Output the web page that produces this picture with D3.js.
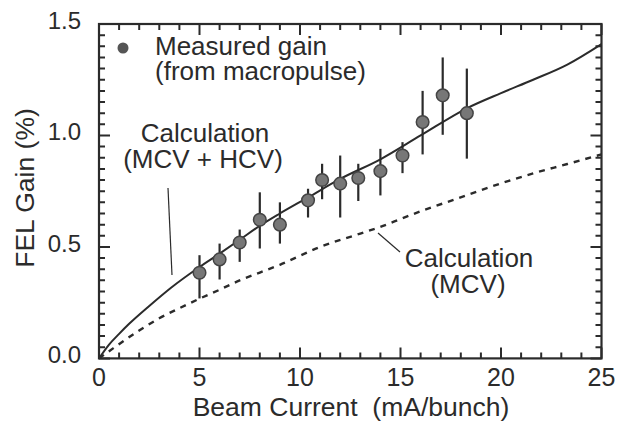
<!DOCTYPE html>
<html>
<head>
<meta charset="utf-8">
<script src="https://cdn.jsdelivr.net/npm/d3@7"></script>
<style>
  html, body { margin: 0; padding: 0; background: #fff; }
  svg { display: block; font-family: "Liberation Sans", Arial, Helvetica, sans-serif; }
</style>
</head>
<body>
<svg id="chart" width="618" height="424"></svg>
<script>
// Measured FEL gain vs beam current (from macropulse)
const measCurrent = [5.0, 6.0, 7.0, 8.0, 9.0, 10.4, 11.1, 12.0, 12.9, 14.0, 15.1, 16.1, 17.1, 18.3];
const measGain    = [0.384, 0.444, 0.520, 0.622, 0.600, 0.709, 0.800, 0.784, 0.809, 0.840, 0.910, 1.060, 1.180, 1.100];
const measHigh    = [0.463, 0.515, 0.578, 0.745, 0.700, 0.761, 0.873, 0.910, 0.873, 0.940, 0.970, 1.200, 1.350, 1.300];
const measLow     = [0.269, 0.354, 0.433, 0.493, 0.515, 0.632, 0.714, 0.632, 0.706, 0.731, 0.831, 0.915, 1.003, 0.896];

// Calculation (MCV + HCV)
const calcBothCurrent = [0, 0.5, 1.0, 1.5, 2.5, 3.6, 5.0, 6.0, 7.0, 8.0, 9.0, 10.4, 12.0, 14.0, 16.0, 18.3, 20.0, 21.6, 23.3, 25.0];
const calcBothGain    = [0.0, 0.062, 0.110, 0.155, 0.235, 0.318, 0.410, 0.470, 0.532, 0.595, 0.650, 0.722, 0.805, 0.893, 1.000, 1.122, 1.190, 1.250, 1.318, 1.410];

// Calculation (MCV)
const calcMcvCurrent = [0, 0.7, 2.0, 3.0, 4.0, 5.0, 6.0, 7.0, 8.0, 9.0, 11.0, 13.0, 14.0, 15.0, 16.0, 17.6, 20.0, 21.6, 23.3, 25.0];
const calcMcvGain    = [0.0, 0.045, 0.125, 0.180, 0.225, 0.268, 0.308, 0.350, 0.385, 0.420, 0.500, 0.560, 0.590, 0.625, 0.660, 0.710, 0.785, 0.830, 0.872, 0.915];

const xTicks = [0, 5, 10, 15, 20, 25];
const yTicks = [0.0, 0.5, 1.0, 1.5];
const xMinorStep = 1;
const yMinorStep = 0.05;

const svg = d3.select("#chart");
const plotLeft = 99, plotRight = 601.5, plotTop = 24, plotBottom = 358.4;

const x = d3.scaleLinear().domain([0, 25]).range([plotLeft, plotRight]);
const y = d3.scaleLinear().domain([0, 1.5]).range([plotBottom, plotTop]);

const ink = "#2b2b2b";

// Frame
svg.append("rect")
  .attr("x", plotLeft).attr("y", plotTop)
  .attr("width", plotRight - plotLeft).attr("height", plotBottom - plotTop)
  .attr("fill", "none").attr("stroke", ink).attr("stroke-width", 2.2);

// Inward ticks on all four sides, built as one path
const xMinor = d3.range(0, 25 + 1e-9, xMinorStep);
const yMinor = d3.range(0, 1.5 + 1e-9, yMinorStep);
const isMajorX = v => xTicks.some(t => Math.abs(t - v) < 1e-6);
const isMajorY = v => yTicks.some(t => Math.abs(t - v) < 1e-6);
const tp = d3.path();
xMinor.forEach(v => {
  const len = isMajorX(v) ? 11 : 6;
  const px = x(v);
  tp.moveTo(px, plotBottom); tp.lineTo(px, plotBottom - len);
  tp.moveTo(px, plotTop); tp.lineTo(px, plotTop + len);
});
yMinor.forEach(v => {
  const len = isMajorY(v) ? 11 : 6;
  const py = y(v);
  tp.moveTo(plotLeft, py); tp.lineTo(plotLeft + len, py);
  tp.moveTo(plotRight, py); tp.lineTo(plotRight - len, py);
});
svg.append("path").attr("d", tp.toString())
  .attr("fill", "none").attr("stroke", ink).attr("stroke-width", 2);

// Tick labels
svg.append("g").selectAll("text").data(xTicks).join("text")
  .attr("x", d => x(d)).attr("y", 386)
  .attr("text-anchor", "middle").attr("font-size", 25).attr("fill", ink)
  .text(d3.format("d"));
svg.append("g").selectAll("text").data(yTicks).join("text")
  .attr("x", 81).attr("y", d => y(d) + 5)
  .attr("text-anchor", "end").attr("font-size", 24).attr("fill", ink)
  .text(d3.format(".1f"));

// Calculation curves
const curve = d3.line().x(d => x(d[0])).y(d => y(d[1])).curve(d3.curveMonotoneX);

svg.append("path")
  .datum(d3.zip(calcBothCurrent, calcBothGain))
  .attr("d", curve)
  .attr("fill", "none").attr("stroke", ink).attr("stroke-width", 2);

svg.append("path")
  .datum(d3.zip(calcMcvCurrent, calcMcvGain))
  .attr("d", curve)
  .attr("fill", "none").attr("stroke", ink).attr("stroke-width", 2.4)
  .attr("stroke-dasharray", "6,6");

// Measured points with error bars
const meas = measCurrent.map((c, i) => ({ c, g: measGain[i], hi: measHigh[i], lo: measLow[i] }));
svg.append("g").selectAll("line").data(meas).join("line")
  .attr("x1", d => x(d.c)).attr("x2", d => x(d.c))
  .attr("y1", d => y(d.hi)).attr("y2", d => y(d.lo))
  .attr("stroke", ink).attr("stroke-width", 2.2);
svg.append("g").selectAll("circle").data(meas).join("circle")
  .attr("cx", d => x(d.c)).attr("cy", d => y(d.g)).attr("r", 6.3)
  .attr("fill", "#777").attr("stroke", "#444").attr("stroke-width", 1.5);

// Legend
svg.append("circle").attr("cx", 123).attr("cy", 48).attr("r", 5.5).attr("fill", "#555");
const legend = svg.append("text").attr("font-size", 26).attr("fill", ink);
legend.append("tspan").attr("x", 155).attr("y", 55).text("Measured gain");
legend.append("tspan").attr("x", 155).attr("y", 80).text("(from macropulse)");

// Annotation: MCV + HCV
const a1 = svg.append("text").attr("font-size", 26).attr("fill", ink).attr("text-anchor", "middle");
a1.append("tspan").attr("x", 205).attr("y", 142).text("Calculation");
a1.append("tspan").attr("x", 203).attr("y", 168).text("(MCV + HCV)");
svg.append("line").attr("x1", 168).attr("y1", 188).attr("x2", 172).attr("y2", 275)
  .attr("stroke", ink).attr("stroke-width", 1.2);

// Annotation: MCV
const a2 = svg.append("text").attr("font-size", 26).attr("fill", ink).attr("text-anchor", "middle");
a2.append("tspan").attr("x", 469).attr("y", 267).text("Calculation");
a2.append("tspan").attr("x", 468).attr("y", 293).text("(MCV)");
svg.append("line").attr("x1", 378).attr("y1", 233).attr("x2", 400).attr("y2", 252)
  .attr("stroke", ink).attr("stroke-width", 1.2);

// Axis titles
svg.append("text").attr("x", 351).attr("y", 416).attr("text-anchor", "middle")
  .attr("font-size", 26.5).attr("fill", ink).attr("xml:space", "preserve")
  .text("Beam Current  (mA/bunch)");
svg.append("text").attr("transform", "translate(34,188) rotate(-90)").attr("text-anchor", "middle")
  .attr("font-size", 26.5).attr("fill", ink)
  .text("FEL Gain (%)");
</script>
</body>
</html>
